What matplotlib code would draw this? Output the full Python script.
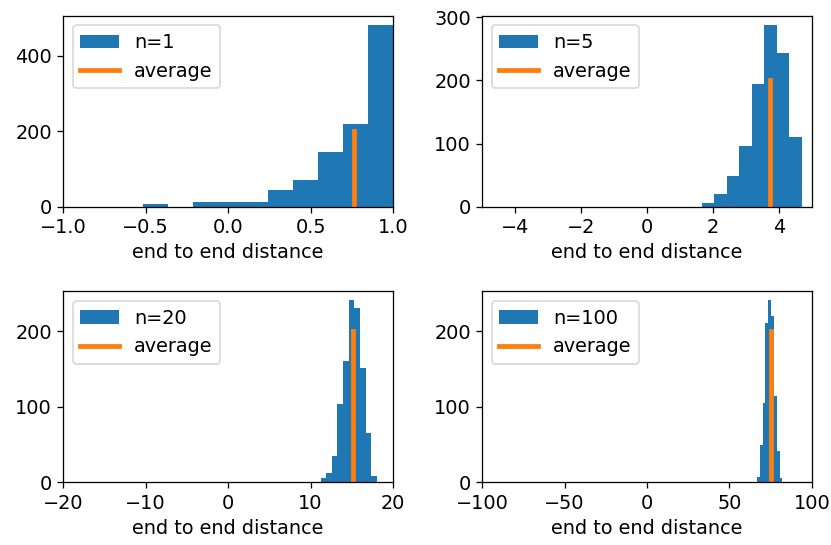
import numpy as np
import matplotlib
matplotlib.use('Agg')
import matplotlib.pyplot as plt

plt.rcParams['font.size'] = 12

# chain lengths and the histogram (10 bins each)
steps = [1, 5, 20, 100]
ranges = [(-0.515, 1.0), (0.91, 4.70), (11.23, 18.03), (65.0, 82.1)]
counts_n1 = [8, 0, 13, 13, 13, 44, 72, 146, 220, 482]
counts_n5 = [0, 0, 6, 20, 48, 97, 195, 288, 244, 110]
counts_n20 = [6, 12, 35, 104, 161, 241, 231, 151, 65, 9]
counts_n100 = [1, 7, 50, 105, 211, 241, 220, 115, 41, 6]
averages = [0.763, 3.72, 15.18, 75.4]
avg_height = 200

all_counts = [counts_n1, counts_n5, counts_n20, counts_n100]

fig, axes = plt.subplots(2, 2, figsize=(831 / 115.2, 545 / 115.2), dpi=115.2)
fig.subplots_adjust(left=0.076, right=0.977, top=0.971, bottom=0.115,
                    wspace=0.27, hspace=0.443)

for ax, n, rng, counts, avg in zip(axes.flat, steps, ranges, all_counts, averages):
    nb = len(counts)
    edges = np.linspace(rng[0], rng[1], nb + 1)
    centers = (edges[:-1] + edges[1:]) / 2
    ax.hist(centers, bins=edges, weights=counts, label='n=%d' % n)
    ax.plot([avg, avg], [0, avg_height], lw=3, label='average')
    ax.set_xlim(-n, n)
    ax.set_xlabel('end to end distance')
    ax.legend(loc='upper left')

fig.savefig('out.png', dpi=115.2)
